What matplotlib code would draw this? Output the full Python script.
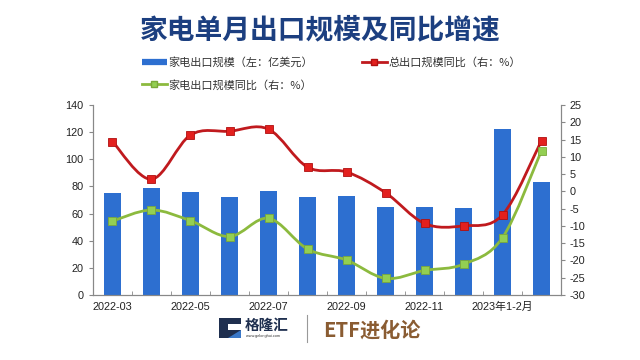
import numpy as np
import matplotlib
matplotlib.use('Agg')
import matplotlib.pyplot as plt
from matplotlib.path import Path
from matplotlib.patches import PathPatch, Rectangle, Polygon
from matplotlib.lines import Line2D

plt.rcParams['font.family'] = ['Liberation Sans', 'Noto Sans CJK SC', 'DejaVu Sans']

months = ['2022-03', '2022-04', '2022-05', '2022-06', '2022-07', '2022-08',
          '2022-09', '2022-10', '2022-11', '2022-12', '2023年1-2月', '2023-03']
tick_labels = ['2022-03', '', '2022-05', '', '2022-07', '', '2022-09', '',
               '2022-11', '', '2023年1-2月', '']
export_scale = [75, 79, 76, 72, 76.5, 72.5, 73, 64.5, 64.5, 64, 122.5, 83.5]
total_yoy = [14.4, 3.5, 16.3, 17.4, 18.0, 7.0, 5.6, -0.4, -9.3, -10.0, -6.8, 14.7]
appliance_yoy = [-8.6, -5.4, -8.5, -13.1, -7.8, -16.7, -19.9, -25.2, -22.9, -21.1, -13.4, 11.8]

BLUE = '#2d6fd0'
RED_LINE = '#c01a1e'
RED_MK = '#e3201e'
GREEN_LINE = '#8cba3e'
GREEN_MK = '#93cf52'


def smooth_path(xs, ys):
    # excel-style smoothed line: catmull-rom as cubic bezier
    pts = np.column_stack([xs, ys]).astype(float)
    n = len(pts)
    verts = [pts[0]]
    codes = [Path.MOVETO]
    for i in range(n - 1):
        p0 = pts[i - 1] if i > 0 else pts[i]
        p1 = pts[i]
        p2 = pts[i + 1]
        p3 = pts[i + 2] if i + 2 < n else pts[i + 1]
        c1 = p1 + (p2 - p0) / 6.0
        c2 = p2 - (p3 - p1) / 6.0
        verts += [c1, c2, p2]
        codes += [Path.CURVE4] * 3
    return Path(verts, codes)


fig = plt.figure(figsize=(6.4, 3.6), dpi=100)
fig.patch.set_facecolor('white')

ax = fig.add_axes([0.1453, 0.1806, 0.7313, 0.5278])
x = np.arange(len(months))
ax.bar(x, export_scale, width=0.42, color=BLUE, zorder=2)
ax.set_xlim(-0.5, len(months) - 0.5)
ax.set_ylim(0, 140)
ax.set_yticks(range(0, 141, 20))
ax.set_xticks(x)
ax.set_xticklabels(tick_labels, fontsize=7.8, color='#222222')
ax.set_xticks(np.arange(0.5, len(months) - 0.5, 1), minor=True)
ax.tick_params(axis='x', which='major', length=0, pad=5)
ax.tick_params(axis='x', which='minor', length=3, direction='in', color='#888888')
ax.tick_params(axis='y', labelsize=7.8, labelcolor='#222222', length=3,
               color='#888888', direction='out', pad=4)
ax.spines['top'].set_visible(False)
for s in ['left', 'bottom', 'right']:
    ax.spines[s].set_color('#888888')
    ax.spines[s].set_linewidth(0.8)

ax2 = ax.twinx()
ax2.set_ylim(-30, 25)
ax2.set_yticks(range(-30, 26, 5))
ax2.set_yticklabels([str(v) for v in range(-30, 26, 5)])
ax2.tick_params(axis='y', labelsize=7.8, labelcolor='#222222', length=3,
                color='#888888', direction='out', pad=3)
ax2.spines['top'].set_visible(False)
for s in ['left', 'bottom', 'right']:
    ax2.spines[s].set_color('#888888')
    ax2.spines[s].set_linewidth(0.8)

ax2.add_patch(PathPatch(smooth_path(x, total_yoy), facecolor='none',
                        edgecolor=RED_LINE, lw=2.0, zorder=3))
ax2.plot(x, total_yoy, ls='none', marker='s', ms=5.5, mfc=RED_MK,
         mec='#b01010', mew=0.6, zorder=4)
ax2.add_patch(PathPatch(smooth_path(x, appliance_yoy), facecolor='none',
                        edgecolor=GREEN_LINE, lw=2.0, zorder=3))
ax2.plot(x, appliance_yoy, ls='none', marker='s', ms=5.5, mfc=GREEN_MK,
         mec='#7aa83a', mew=0.6, zorder=4)

# title
fig.text(0.5, 0.915, '家电单月出口规模及同比增速', ha='center', va='center',
         fontsize=20, fontweight='bold', color='#1c3f80',
         family=['Noto Sans CJK SC'])

# legend
handles = [
    Line2D([], [], color=BLUE, lw=4.5, solid_capstyle='butt'),
    Line2D([], [], color=GREEN_LINE, lw=2, marker='s', ms=5, mfc=GREEN_MK, mec='#7aa83a'),
    Line2D([], [], color=RED_LINE, lw=2, marker='s', ms=5, mfc=RED_MK, mec='#b01010'),
]
labels = ['家电出口规模（左：亿美元）', '家电出口规模同比（右：%）', '总出口规模同比（右：%）']
fig.legend(handles, labels, loc='upper left', bbox_to_anchor=(0.222, 0.842),
           ncol=2, frameon=False, prop={'family': ['Noto Sans CJK SC'], 'size': 8},
           handlelength=2.2, handletextpad=0.2, columnspacing=4.4,
           labelspacing=1.05, borderpad=0, borderaxespad=0, labelcolor='#333333')

# footer logo
fig.patches.append(Rectangle((0.342, 0.061), 0.034, 0.056, transform=fig.transFigure,
                             facecolor='#1f2f4f', edgecolor='none'))
fig.patches.append(Rectangle((0.356, 0.083), 0.020, 0.016, transform=fig.transFigure,
                             facecolor='white', edgecolor='none'))
fig.patches.append(Polygon([(0.357, 0.061), (0.376, 0.061), (0.376, 0.083)],
                           transform=fig.transFigure, facecolor='#3a78c8', edgecolor='none'))
fig.text(0.383, 0.097, '格隆汇', ha='left', va='center', fontsize=10.5,
         fontweight='bold', color='#1f2f4f', family=['Noto Sans CJK SC'])
fig.text(0.384, 0.066, 'www.gelonghui.com', ha='left', va='center', fontsize=2.8,
         color='#333333')
fig.lines.append(Line2D([0.479, 0.479], [0.05, 0.125], transform=fig.transFigure,
                        color='#999999', lw=0.8))
fig.text(0.505, 0.082, 'ETF进化论', ha='left', va='center', fontsize=14.5,
         fontweight='bold', color='#8a5c32', family=['Noto Sans CJK SC'])

fig.savefig('out.png', dpi=100, facecolor='white')
